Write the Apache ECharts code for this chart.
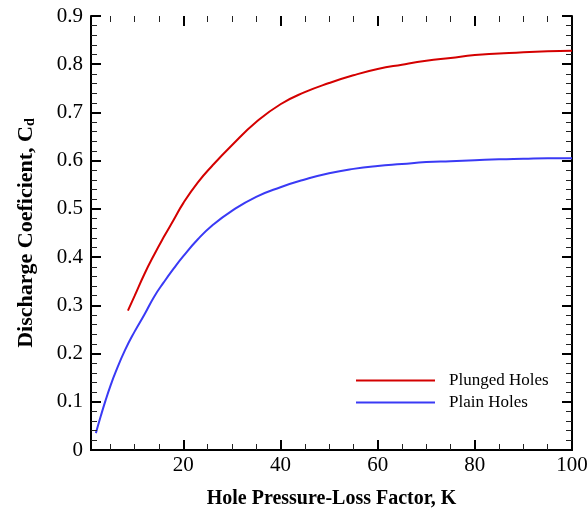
<!DOCTYPE html>
<html>
<head>
<meta charset="utf-8">
<script src="https://cdn.jsdelivr.net/npm/echarts@6/dist/echarts.min.js"></script>
<style>
html,body{margin:0;padding:0;background:#fff}
#wrap{position:relative;width:588px;height:508px}
#c,#t{position:absolute;left:0;top:0;width:588px;height:508px}
#t{pointer-events:none}
</style>
</head>
<body>
<div id="wrap"><div id="c"></div><div id="t"></div></div>
<script>
// Data
const plungedK = [8.6, 10, 12, 14, 16, 18, 20, 23, 26, 30, 35, 40, 45, 50, 55, 60, 65, 70, 75, 80, 85, 90, 95, 100];
const plungedCd = [0.289, 0.32, 0.365, 0.405, 0.442, 0.477, 0.512, 0.555, 0.59, 0.632, 0.68, 0.717, 0.742, 0.761, 0.777, 0.79, 0.799, 0.807, 0.813, 0.819, 0.822, 0.825, 0.827, 0.828];
const plainK = [2, 3, 4, 5, 6, 8, 10, 12, 14, 16, 18, 20, 23, 26, 30, 35, 40, 45, 50, 55, 60, 65, 70, 75, 80, 85, 90, 95, 100];
const plainCd = [0.035, 0.07, 0.103, 0.133, 0.16, 0.207, 0.246, 0.281, 0.318, 0.348, 0.376, 0.402, 0.437, 0.466, 0.496, 0.525, 0.545, 0.561, 0.574, 0.583, 0.589, 0.593, 0.597, 0.599, 0.601, 0.603, 0.604, 0.605, 0.605];
const xMajorTicks = [20, 40, 60, 80];
const xLabels = [20, 40, 60, 80, 100];
const xMinorTicks = [5, 10, 15, 25, 30, 35, 45, 50, 55, 65, 70, 75, 85, 90, 95];
const seriesNames = ['Plunged Holes', 'Plain Holes'];
const X_MIN = 1, X_MAX = 100, Y_MIN = 0, Y_MAX = 0.9;

const FONT = 'Liberation Serif';
const GRID = {left: 91, right: 16, top: 16, bottom: 58, containLabel: false, outerBoundsMode: 'none'};
const pair = (xs, ys) => xs.map((x, i) => [x, ys[i]]);

// ---------- main chart: axis lines, labels, names, curves, legend ----------
function xAx(pos, withLabels) {
  return {
    type: 'value', position: pos, min: X_MIN, max: X_MAX,
    splitLine: {show: false},
    axisLine: {show: true, lineStyle: {color: '#000', width: 2}},
    axisTick: {show: false},
    axisLabel: withLabels ? {show: true, customValues: xLabels, fontFamily: FONT, fontSize: 21, color: '#000', margin: 5}
      : {show: false},
    name: withLabels ? 'Hole Pressure-Loss Factor, K' : '',
    nameLocation: 'middle', nameGap: 39,
    nameTextStyle: {fontFamily: FONT, fontSize: 20, fontWeight: 'bold', color: '#000'}
  };
}
function yAx(pos, withLabels) {
  return {
    type: 'value', position: pos, min: Y_MIN, max: Y_MAX, interval: 0.1,
    splitLine: {show: false},
    axisLine: {show: true, lineStyle: {color: '#000', width: 2}},
    axisTick: {show: false},
    minorTick: {show: false},
    axisLabel: withLabels ? {show: true, fontFamily: FONT, fontSize: 21, color: '#000', margin: 8,
      formatter: v => (v === 0 ? '0' : v.toFixed(1))} : {show: false},
    name: withLabels ? 'Discharge Coeficient, C{sub|d}' : '',
    nameLocation: 'middle', nameGap: 54, nameRotate: 90,
    nameTextStyle: {fontFamily: FONT, fontSize: 22, fontWeight: 'bold', color: '#000',
      rich: {sub: {fontFamily: FONT, fontSize: 14, fontWeight: 'bold', color: '#000', verticalAlign: 'bottom'}}}
  };
}

const chart = echarts.init(document.getElementById('c'));
chart.setOption({
  animation: false,
  grid: GRID,
  xAxis: [xAx('bottom', true), xAx('top', false)],
  yAxis: [yAx('left', true), yAx('right', false)],
  legend: {
    left: 356, top: 372, orient: 'vertical', padding: 0, icon: 'rect',
    itemWidth: 79, itemHeight: 2, itemGap: 5,
    data: seriesNames,
    textStyle: {fontFamily: FONT, fontSize: 17, lineHeight: 17, color: '#000', padding: [0, 0, 0, 9]}
  },
  series: [
    {name: seriesNames[0], type: 'line', xAxisIndex: 0, yAxisIndex: 0, data: pair(plungedK, plungedCd),
      smooth: true, symbol: 'none', lineStyle: {color: '#d40000', width: 2}, itemStyle: {color: '#d40000'}},
    {name: seriesNames[1], type: 'line', xAxisIndex: 0, yAxisIndex: 0, data: pair(plainK, plainCd),
      smooth: true, symbol: 'none', lineStyle: {color: '#3a3af5', width: 2}, itemStyle: {color: '#3a3af5'}}
  ]
});

// ---------- overlay chart: inward tick marks on all four sides ----------
function xTickAx(pos, major) {
  return {
    type: 'value', position: pos, min: X_MIN, max: X_MAX,
    splitLine: {show: false},
    axisLine: {show: false},
    axisTick: {show: true, inside: true, length: major ? 10 : 6,
      customValues: major ? xMajorTicks : xMinorTicks,
      lineStyle: {color: major ? '#000' : '#222', width: major ? 2 : 1}},
    axisLabel: {show: false}
  };
}
function yTickAx(pos) {
  return {
    type: 'value', position: pos, min: Y_MIN, max: Y_MAX, interval: 0.1,
    splitLine: {show: false},
    axisLine: {show: false},
    axisTick: {show: true, inside: true, length: 10, lineStyle: {color: '#000', width: 2}},
    minorTick: {show: true, splitNumber: 5, length: 6, lineStyle: {color: '#222', width: 1}},
    minorSplitLine: {show: false},
    axisLabel: {show: false}
  };
}
const ticks = echarts.init(document.getElementById('t'));
ticks.setOption({
  animation: false,
  grid: GRID,
  xAxis: [xTickAx('bottom', true), xTickAx('bottom', false), xTickAx('top', true), xTickAx('top', false)],
  yAxis: [yTickAx('left'), yTickAx('right')],
  series: [{type: 'line', data: [], silent: true}]
});
</script>
</body>
</html>
